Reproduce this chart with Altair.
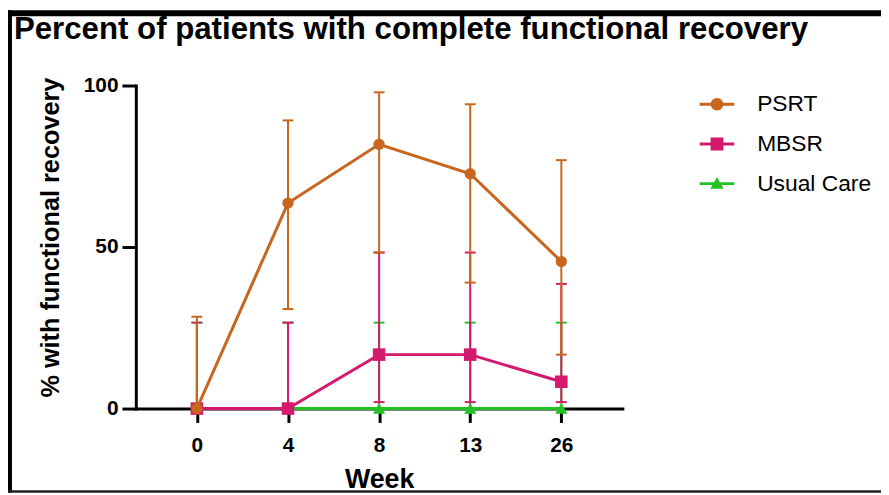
import altair as alt
import pandas as pd

# ---- data ----
weeks = ["0", "4", "8", "13", "26"]
series_names = ["PSRT", "MBSR", "Usual Care"]
series_colors = ["#C8661E", "#D41A6E", "#22C222"]
series_shapes = ["circle", "square", "triangle-up"]

psrt_mean = [0, 63.6, 81.8, 72.7, 45.5]
psrt_low = [0, 30.8, 48.3, 39.0, 16.7]
psrt_high = [28.4, 89.2, 97.9, 94.2, 76.9]

mbsr_mean = [0, 0, 16.7, 16.7, 8.3]
mbsr_low = [0, 0, 2.0, 2.0, 2.0]
mbsr_high = [26.6, 26.6, 48.3, 48.3, 38.6]

uc_mean = [0, 0, 0, 0, 0]
uc_low = [0, 0, 0, 0, 0]
uc_high = [26.6, 26.6, 26.6, 26.6, 26.6]

rows = []
for name, mean, low, high in [
    ("PSRT", psrt_mean, psrt_low, psrt_high),
    ("MBSR", mbsr_mean, mbsr_low, mbsr_high),
    ("Usual Care", uc_mean, uc_low, uc_high),
]:
    for w, m, lo, hi in zip(weeks, mean, low, high):
        rows.append({"series": name, "week": w, "value": m, "low": lo, "high": hi})
df = pd.DataFrame(rows)

FONT = "Liberation Sans"
col = dict(zip(series_names, series_colors))
shp = dict(zip(series_names, series_shapes))

# legend symbols: line with marker (unit box -1..1)
LINE = "M-1,-0.086H1V0.086H-1Z"
P_CIRCLE = LINE + "M-0.36,0A0.36,0.36,0,1,1,0.36,0A0.36,0.36,0,1,1,-0.36,0Z"
P_SQUARE = LINE + "M-0.37,-0.37H0.37V0.37H-0.37Z"
P_TRI = LINE + "M0,-0.38L0.38,0.3L-0.38,0.3Z"

legend = alt.Legend(
    title=None,
    orient="none",
    legendX=569,
    legendY=1.5,
    padding=0,
    symbolSize=1225,
    symbolStrokeWidth=0,
    symbolOpacity=1,
    labelFont=FONT,
    labelFontSize=23,
    labelColor="black",
    labelOffset=23,
    rowPadding=10,
)

color = alt.Color(
    "series:N",
    scale=alt.Scale(domain=series_names, range=series_colors),
    legend=legend,
)
legend_shape = alt.Shape(
    "series:N",
    scale=alt.Scale(domain=series_names, range=[P_CIRCLE, P_SQUARE, P_TRI]),
    legend=None,
)

x_enc = alt.X(
    "week:N",
    scale=alt.Scale(type="point", domain=weeks, padding=0.67),
    axis=alt.Axis(
        title="Week",
        labelAngle=0,
        labelPadding=12,
        titlePadding=12,
        titleFontSize=27,
    ),
)

y_axis = alt.Axis(
    title="% with functional recovery",
    values=[0, 50, 100],
    labelPadding=4,
    titlePadding=20,
    titleFontSize=25.5,
    titleY=153,
)
y_scale = alt.Scale(domain=[0, 100], nice=False, zero=True)


def y_of(field):
    return alt.Y(f"{field}:Q", scale=y_scale, axis=y_axis)


sizes = {"PSRT": 130, "MBSR": 160, "Usual Care": 150}

layers = []

# decorative black frame of the original picture
frame_df = pd.DataFrame({"k": [0]})
frame = alt.Chart(frame_df)
layers.append(frame.mark_rect(color="black").encode(
    x=alt.value(-129), x2=alt.value(752), y=alt.value(-76), y2=alt.value(-70)))
layers.append(frame.mark_rect(color="black").encode(
    x=alt.value(-129), x2=alt.value(-125), y=alt.value(-76), y2=alt.value(411)))
layers.append(frame.mark_rect(color="#222222").encode(
    x=alt.value(-129), x2=alt.value(752), y=alt.value(408.5), y2=alt.value(411)))

# invisible layer that carries the legend (line + marker symbols)
layers.append(alt.Chart(df).mark_point(filled=True, opacity=0).encode(
    x=x_enc, y=y_of("value"), color=color, shape=legend_shape))

for s in ["Usual Care", "MBSR", "PSRT"]:
    base = alt.Chart(df).transform_filter(alt.datum.series == s)
    c = col[s]
    layers.append(base.mark_rule(strokeWidth=2, color=c).encode(
        x=x_enc, y=y_of("low"), y2="high:Q"))
    layers.append(base.mark_tick(size=11, thickness=2, opacity=1, color=c).encode(
        x=x_enc, y=y_of("high")))
    layers.append(base.transform_filter(alt.datum.low > 0).mark_tick(
        size=11, thickness=2, opacity=1, color=c).encode(
        x=x_enc, y=y_of("low")))
    layers.append(base.mark_line(strokeWidth=3, color=c).encode(
        x=x_enc, y=y_of("value")))
    layers.append(base.mark_point(
        filled=True, shape=shp[s], size=sizes[s], opacity=1, color=c).encode(
        x=x_enc, y=y_of("value")))

chart = alt.layer(*layers).properties(
    width=491,
    height=326,
    autosize=alt.AutoSizeParams(type="none"),
    padding={"left": 129, "top": 76, "right": 261, "bottom": 85},
    background="white",
    title=alt.TitleParams(
        "Percent of patients with complete functional recovery",
        anchor="start",
        frame="bounds",
        font=FONT,
        fontSize=31.5,
        fontWeight="bold",
        color="black",
        baseline="alphabetic",
        offset=0,
        dx=6,
        dy=61,
    ),
).configure_view(strokeWidth=0).configure_axis(
    labelFont=FONT,
    labelFontSize=21,
    labelFontWeight="bold",
    labelColor="black",
    titleFont=FONT,
    titleFontWeight="bold",
    titleColor="black",
    domainColor="black",
    domainWidth=3,
    domainCap="square",
    tickColor="black",
    tickWidth=3,
    tickSize=14,
    grid=False,
)

chart.save("out.html", embed_options={"renderer": "svg", "actions": False})
